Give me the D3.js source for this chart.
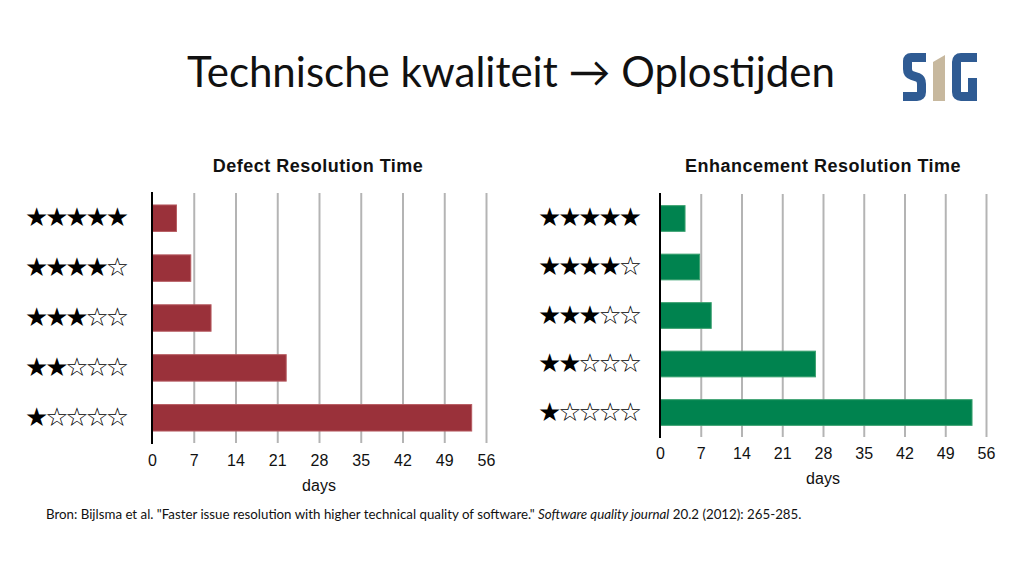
<!DOCTYPE html>
<html>
<head>
<meta charset="utf-8">
<script src="https://cdn.jsdelivr.net/npm/d3@7"></script>
<style>
  body { margin: 0; background: #fff; }
  svg { display: block; }
</style>
</head>
<body>
<svg id="slide" width="1024" height="576"></svg>
<script>
// data
var ratings = ["★★★★★", "★★★★☆", "★★★☆☆", "★★☆☆☆", "★☆☆☆☆"];
var defectDays = [4.1, 6.5, 9.9, 22.5, 53.6];
var enhancementDays = [4.3, 6.8, 8.8, 26.7, 53.6];
var dayTicks = [0, 7, 14, 21, 28, 35, 42, 49, 56];

var svg = d3.select("#slide");

// slide title
svg.append("text")
    .attr("x", 511)
    .attr("y", 87)
    .attr("text-anchor", "middle")
    .style("font-family", "Lato, 'Open Sans', sans-serif")
    .style("font-size", "42px")
    .style("fill", "#111")
    .text("Technische kwaliteit → Oplostijden");

// SIG logo
var logo = svg.append("g");
logo.append("path")
    .attr("d", "M926 57.5 L911 57.5 Q907.5 57.5 907.5 61 L907.5 69 Q907.5 74 912 75.5 L918 77.5 Q921.5 79 921.5 84 L921.5 92 Q921.5 96.5 917 96.5 L903 96.5")
    .attr("fill", "none")
    .attr("stroke", "#2f5b93")
    .attr("stroke-width", 9);
logo.append("path")
    .attr("d", "M933 62 L945 55 L945 101 L933 101 Z")
    .attr("fill", "#c7b89e");
logo.append("path")
    .attr("d", "M977 57.5 L961 57.5 Q956.5 57.5 956.5 62 L956.5 92 Q956.5 96.5 961 96.5 L972.5 96.5 L972.5 78")
    .attr("fill", "none")
    .attr("stroke", "#2f5b93")
    .attr("stroke-width", 9);

function drawPanel(cfg) {
    var x = d3.scaleLinear().domain([0, 56]).range([cfg.x0, cfg.x1]);
    var y = d3.scaleBand()
        .domain(ratings)
        .range([cfg.yTop, cfg.yBottom])
        .paddingInner(0.47)
        .paddingOuter(0.24);

    var g = svg.append("g");

    g.append("text")
        .attr("x", cfg.titleX)
        .attr("y", cfg.titleY)
        .attr("text-anchor", "middle")
        .style("font-family", "'Liberation Sans', Arial, sans-serif")
        .style("font-weight", "bold")
        .style("font-size", "18px")
        .style("letter-spacing", "0.5px")
        .style("fill", "#111")
        .text(cfg.title);

    // grid lines
    var grid = g.append("g")
        .attr("transform", "translate(0," + cfg.yBottom + ")")
        .call(d3.axisBottom(x)
            .tickValues(dayTicks.slice(1))
            .tickSize(-(cfg.yBottom - cfg.yTop))
            .tickFormat(""));
    grid.select(".domain").remove();
    grid.selectAll("line")
        .attr("stroke", "#b4b4b4")
        .attr("stroke-width", 2);

    // bars
    g.selectAll(".bar")
        .data(cfg.values)
        .enter().append("rect")
        .attr("class", "bar")
        .attr("x", x(0))
        .attr("y", function(d, i) { return y(ratings[i]); })
        .attr("width", function(d) { return x(d) - x(0); })
        .attr("height", y.bandwidth())
        .attr("fill", cfg.color)
        .attr("stroke", cfg.edge)
        .attr("stroke-width", 1);

    // vertical axis line
    g.append("line")
        .attr("x1", x(0)).attr("x2", x(0))
        .attr("y1", cfg.yTop - 1).attr("y2", cfg.yBottom + 1)
        .attr("stroke", "#000")
        .attr("stroke-width", 2);

    // tick labels
    var ax = g.append("g")
        .attr("transform", "translate(0," + cfg.tickY + ")")
        .call(d3.axisBottom(x).tickValues(dayTicks).tickSize(0).tickPadding(0));
    ax.select(".domain").remove();
    ax.selectAll("text")
        .attr("dy", 0)
        .attr("y", 0)
        .style("font-family", "'Liberation Sans', Arial, sans-serif")
        .style("font-size", "16px")
        .style("fill", "#111");

    g.append("text")
        .attr("x", (cfg.x0 + cfg.x1) / 2)
        .attr("y", cfg.daysY)
        .attr("text-anchor", "middle")
        .style("font-family", "'Liberation Sans', Arial, sans-serif")
        .style("font-size", "16px")
        .style("fill", "#111")
        .text("days");

    // star labels
    g.selectAll(".stars")
        .data(ratings)
        .enter().append("text")
        .attr("class", "stars")
        .attr("x", cfg.starX)
        .attr("y", function(d) { return y(d) + y.bandwidth() / 2 + 8; })
        .attr("textLength", 104)
        .attr("lengthAdjust", "spacing")
        .style("font-family", "'DejaVu Sans', sans-serif")
        .style("font-size", "26px")
        .style("fill", "#000")
        .text(function(d) { return d; });
}

drawPanel({
    title: "Defect Resolution Time",
    values: defectDays,
    color: "#9a313a",
    edge: "#b65a60",
    x0: 152, x1: 486, yTop: 193, yBottom: 443,
    titleX: 318, titleY: 172,
    tickY: 466, daysY: 491,
    starX: 25
});

drawPanel({
    title: "Enhancement Resolution Time",
    values: enhancementDays,
    color: "#00834f",
    edge: "#3aa06f",
    x0: 660, x1: 986, yTop: 194, yBottom: 437,
    titleX: 823, titleY: 172,
    tickY: 459, daysY: 484,
    starX: 538
});

// source note
var note = svg.append("text")
    .attr("x", 46)
    .attr("y", 519)
    .style("font-family", "Lato, 'Open Sans', sans-serif")
    .style("font-size", "13.3px")
    .style("fill", "#111");
note.append("tspan").text("Bron: Bijlsma et al. \"Faster issue resolution with higher technical quality of software.\" ");
note.append("tspan").style("font-style", "italic").text("Software quality journal");
note.append("tspan").text(" 20.2 (2012): 265-285.");
</script>
</body>
</html>
